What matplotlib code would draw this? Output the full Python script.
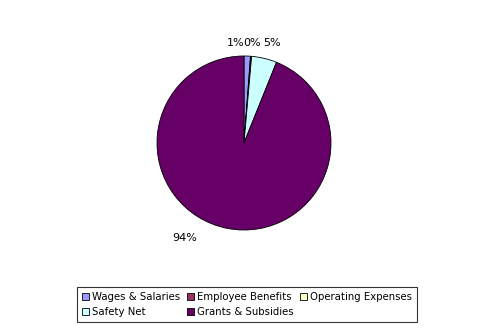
import matplotlib
matplotlib.use("Agg")
import matplotlib.pyplot as plt
import numpy as np

categories = ["Wages & Salaries", "Employee Benefits", "Operating Expenses", "Safety Net", "Grants & Subsidies"]
values = [1.2, 0.15, 0.05, 4.7, 93.9]
pct_labels = ["1%", "0%", "0%", "5%", "94%"]
colors = ["#9999FF", "#993366", "#FFFFCC", "#CCFFFF", "#660066"]

W, H = 491, 333
fig = plt.figure(figsize=(W / 100, H / 100), dpi=100)
cx, cy, r = 244, 143, 87
ax = fig.add_axes([(cx - r) / W, (H - cy - r) / H, 2 * r / W, 2 * r / H])
wedges, _ = ax.pie(values, colors=colors, startangle=90, counterclock=False,
                   wedgeprops=dict(edgecolor="black", linewidth=0.6), radius=1)
ax.set_xlim(-1, 1)
ax.set_ylim(-1, 1)
ax.set_aspect("equal")
ax.axis("off")

fs = 8
# label positions (pixel offsets from centre, y up) approximating Excel's layout
label_pos = {0: (-8, 100), 1: (8, 100), 3: (28, 100), 4: (-59, -95)}
for i, (dx, dy) in label_pos.items():
    ax.text(dx / r, dy / r, pct_labels[i], ha="center", va="center", fontsize=fs,
            family="DejaVu Sans")

# legend filled row-wise (matplotlib fills column-wise)
order = [0, 3, 1, 4, 2]
leg = fig.legend([wedges[i] for i in order], [categories[i] for i in order],
                 loc="lower left", ncol=3,
                 bbox_to_anchor=(77 / W, 1 - 322 / H, 340 / W, 40 / H), mode="expand",
                 fontsize=7.3, frameon=True, fancybox=False, edgecolor="black",
                 handlelength=0.7, handleheight=0.7, handletextpad=0.3, columnspacing=0.5,
                 borderpad=0.45, labelspacing=0.55, borderaxespad=0)
leg.get_frame().set_linewidth(0.8)

fig.savefig("out.png", dpi=100)
